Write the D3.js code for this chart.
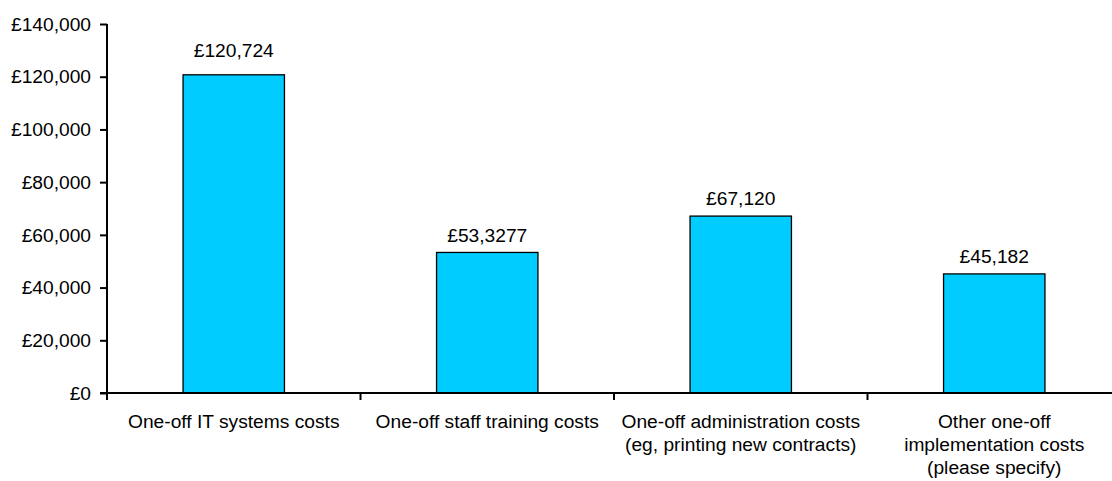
<!DOCTYPE html>
<html>
<head>
<meta charset="utf-8">
<script src="https://cdn.jsdelivr.net/npm/d3@7"></script>
<style>
  html, body { margin: 0; padding: 0; background: #fff; }
  svg { display: block; font-family: "Liberation Sans", Arial, sans-serif; }
</style>
</head>
<body>
<svg id="chart" width="1112" height="481"></svg>
<script>
// One-off implementation costs by category
const categories = [
  ["One-off IT systems costs"],
  ["One-off staff training costs"],
  ["One-off administration costs", "(eg, printing new contracts)"],
  ["Other one-off", "implementation costs", "(please specify)"]
];
const values = [120724, 53327, 67120, 45182];
const valueLabels = ["£120,724", "£53,3277", "£67,120", "£45,182"];
const yTicks = [0, 20000, 40000, 60000, 80000, 100000, 120000, 140000];

const svg = d3.select("#chart");
const plotLeft = 107, plotRight = 1121, plotTop = 24, plotBottom = 393;
const fontSize = 19.2;

const x = d3.scaleBand()
  .domain(d3.range(categories.length))
  .range([plotLeft, plotRight])
  .padding(0);

const y = d3.scaleLinear()
  .domain([0, 140000])
  .range([plotBottom, plotTop]);

const fmt = d => "£" + d3.format(",")(d);

// Bars
const barW = x.bandwidth() * 0.4;
svg.append("g").selectAll("rect")
  .data(values)
  .join("rect")
  .attr("x", (d, i) => x(i) + (x.bandwidth() - barW) / 2)
  .attr("y", d => y(d))
  .attr("width", barW)
  .attr("height", d => y(0) - y(d))
  .attr("fill", "#00CCFF")
  .attr("stroke", "#000")
  .attr("stroke-width", 1.3);

// Value labels; gap (px) between each label's baseline and its bar top
const labelGap = [18, 10, 11, 11];
svg.append("g").selectAll("text")
  .data(values)
  .join("text")
  .attr("x", (d, i) => x(i) + x.bandwidth() / 2)
  .attr("y", (d, i) => y(d) - labelGap[i])
  .attr("text-anchor", "middle")
  .attr("font-size", fontSize)
  .attr("fill", "#000")
  .text((d, i) => valueLabels[i]);

// Y axis
const yAxis = svg.append("g")
  .attr("transform", `translate(${plotLeft},0)`)
  .call(d3.axisLeft(y).tickValues(yTicks).tickFormat(fmt).tickSize(7).tickPadding(9));
yAxis.select(".domain").attr("stroke", "#000").attr("stroke-width", 2)
  .attr("d", `M0,${plotTop}V${plotBottom}`);
yAxis.selectAll(".tick line").attr("stroke", "#000").attr("stroke-width", 2);
yAxis.selectAll(".tick text").attr("font-size", fontSize).attr("fill", "#000")
  .attr("font-family", "'Liberation Sans', Arial, sans-serif");

// X axis baseline and category separators
const xg = svg.append("g");
xg.append("line")
  .attr("x1", plotLeft - 7).attr("x2", plotRight)
  .attr("y1", plotBottom).attr("y2", plotBottom)
  .attr("stroke", "#000").attr("stroke-width", 2);
xg.selectAll("line.sep")
  .data(d3.range(categories.length))
  .join("line")
  .attr("class", "sep")
  .attr("x1", i => x(i)).attr("x2", i => x(i))
  .attr("y1", plotBottom).attr("y2", plotBottom + 7)
  .attr("stroke", "#000").attr("stroke-width", 2);

// Category labels
xg.selectAll("text.cat")
  .data(categories)
  .join("text")
  .attr("class", "cat")
  .attr("text-anchor", "middle")
  .attr("font-size", fontSize)
  .attr("fill", "#000")
  .each(function (lines, i) {
    const t = d3.select(this);
    lines.forEach((ln, k) => {
      t.append("tspan")
        .attr("x", x(i) + x.bandwidth() / 2)
        .attr("y", 428 + k * 23)
        .text(ln);
    });
  });
</script>
</body>
</html>
